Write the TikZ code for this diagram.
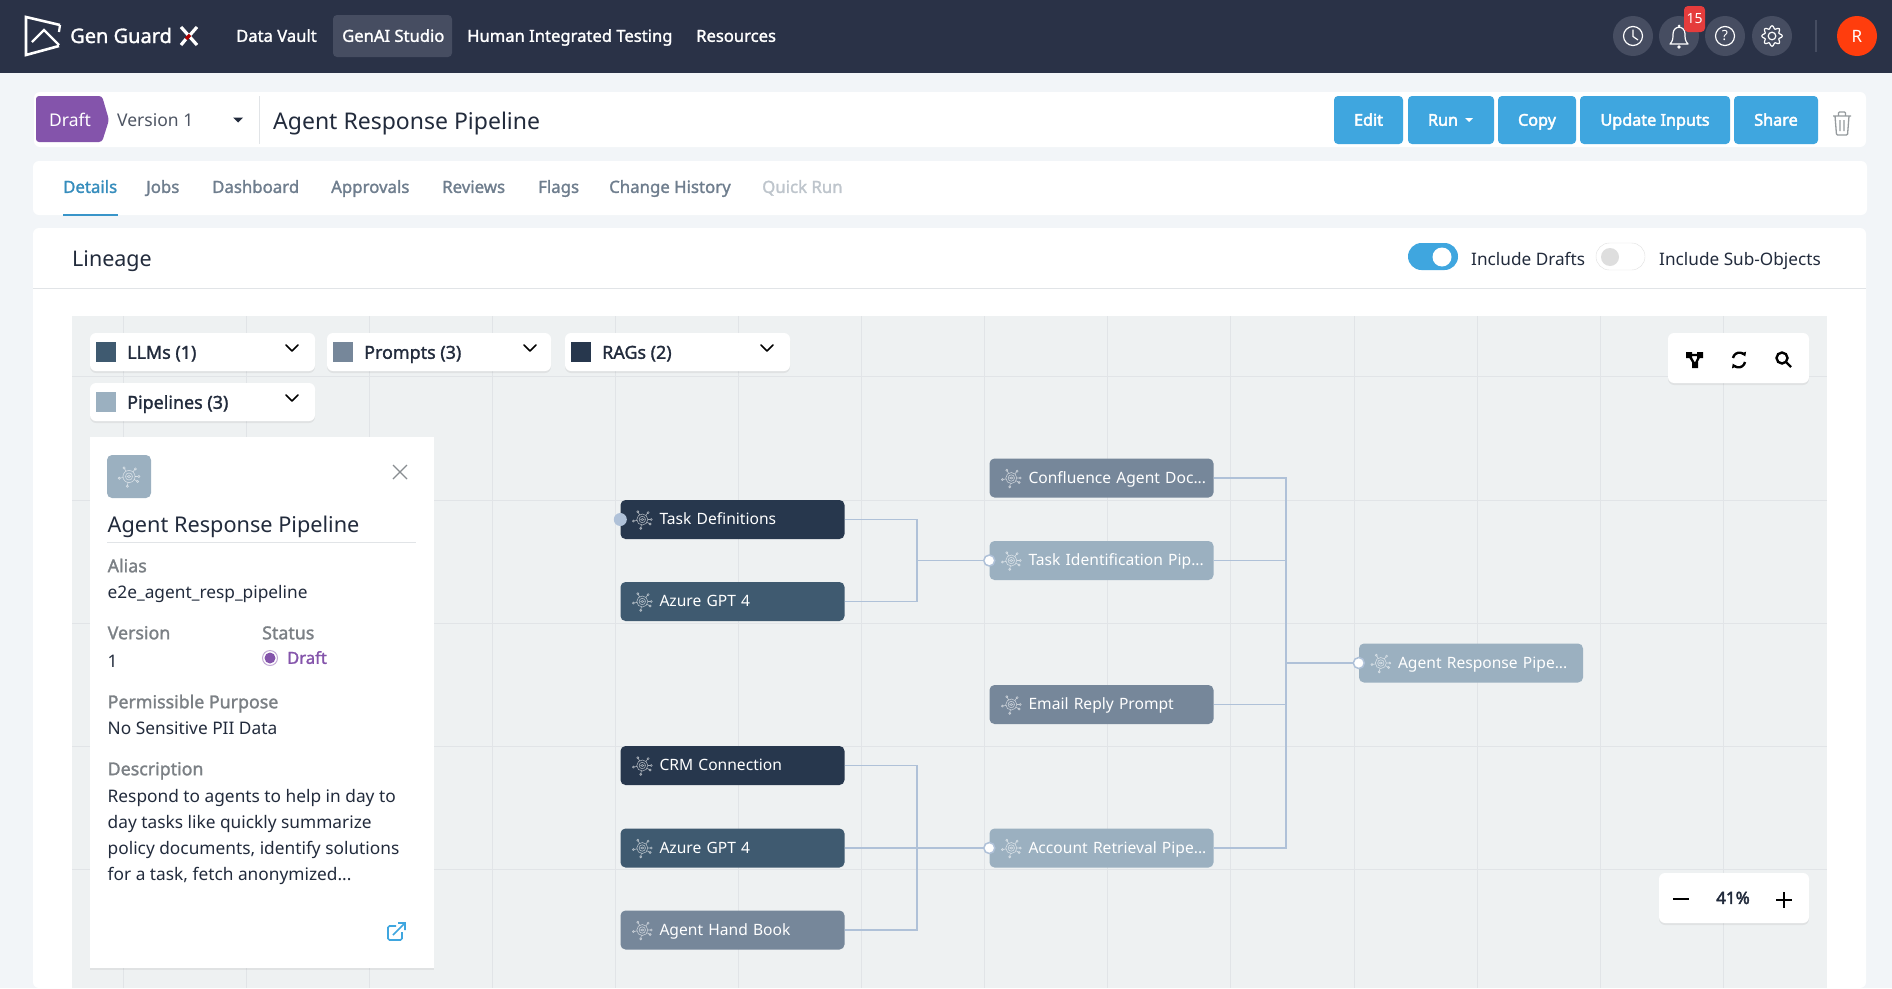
\documentclass[tikz,border=0pt]{standalone}
\usepackage{fontspec}
\setmainfont{Noto Sans}
\newfontfamily\semi[FakeBold=1.5]{Noto Sans}
\newfontfamily\heavy[FakeBold=2.6]{Noto Sans}
\usetikzlibrary{arrows.meta,shadows}
\newcommand{\fsz}[1]{\fontsize{#1}{#1}\selectfont}
\newcommand{\levelstrut}{\rule[-0.26em]{0pt}{1.22em}}
\newcommand{\pipelabel}[1]{\hspace*{30pt}\makebox[176pt][l]{\levelstrut #1}}

\definecolor{navy}{HTML}{2A3247}
\definecolor{navlight}{HTML}{464D61}
\definecolor{pagebg}{HTML}{F2F5F8}
\definecolor{canvas}{HTML}{EEF1F2}
\definecolor{gridline}{HTML}{E1E4E7}
\definecolor{skyblue}{HTML}{3FA6DF}
\definecolor{draftpurple}{HTML}{8454AB}
\definecolor{llmcol}{HTML}{3F5A70}
\definecolor{promptcol}{HTML}{76879A}
\definecolor{ragcol}{HTML}{27374D}
\definecolor{pipecol}{HTML}{9BB0C0}
\definecolor{linkcol}{HTML}{AFC1D8}
\definecolor{inktext}{HTML}{222B3C}
\definecolor{greytext}{HTML}{7B8085}
\definecolor{tabtext}{HTML}{6F7E8E}

\tikzset{
    txt/.style={anchor=west,inner sep=0pt,execute at begin node=\levelstrut},
    ctr/.style={inner sep=0pt,execute at begin node=\levelstrut},
    card/.style={fill=white,rounded corners=6pt},
    shadowed/.style={drop shadow={shadow xshift=0pt,shadow yshift=-2pt,fill=black,opacity=0.06}},
    btn/.style={fill=skyblue,rounded corners=4pt},
    btnlabel/.style={ctr,text=white,font=\heavy\fsz{16.2}},
    navlink/.style={txt,text=white,font=\semi\fsz{16.6}},
    tablink/.style={txt,text=tabtext,font=\semi\fsz{16.8}},
    chip/.style={txt,text=inktext,font=\semi\fsz{17.9}},
    lbl/.style={txt,text=greytext,font=\semi\fsz{17.8}},
    val/.style={txt,text=inktext,font=\fsz{17.3}},
    roundbtn/.style={circle,fill=navlight,minimum size=40pt,inner sep=0pt},
    glyph/.style={white,line width=1.2pt},
    chevron/.style={black,line width=1.6pt,line cap=round,line join=round},
    toolicon/.style={black,line width=2.4pt},
    pipebox/.style={rounded corners=5pt,minimum width=224pt,minimum height=39pt,inner ysep=0pt,inner xsep=9pt,
        text width=206pt,align=left,text=white,font=\fsz{15.6}},
    link/.style={linkcol,line width=1.5pt},
    portopen/.style={circle,fill=white,draw=linkcol,line width=1.5pt,minimum size=11pt,inner sep=0pt},
    portfull/.style={circle,fill=linkcol,minimum size=13pt,inner sep=0pt},
    spider/.pic={
        \draw[white,opacity=0.6,line width=0.6pt] (0,0) circle (5.5) (0,0) circle (3.2) (0,0) ellipse (1.6 and 1);
        \foreach \a in {30,100,170,240,310,0}{
            \draw[white,opacity=0.6,line width=0.6pt] (\a:5.5) -- (\a:8) (\a:9) circle (1);
        }
    }
}

\begin{document}
\begin{tikzpicture}[x=1pt,y=-1pt]
    \useasboundingbox (0,0) rectangle (1892,988);
    \fill[pagebg] (0,0) rectangle (1892,988);

    % Top bar
    \fill[navy] (0,0) rectangle (1892,73);
    \draw[white,line width=2.6pt] (60,25) -- (26,17) -- (26,55) -- (59,46);
    \draw[white,line width=2.2pt] (60,25) -- (59,32);
    \draw[white,line width=2.4pt] (32,42) -- (44,30) -- (59,45);
    \node[txt,text=white,font=\semi\fsz{20}] (brand) at (70,36) {Gen Guard};
    \draw[white,line width=3.2pt] (181,27) -- (197,45) (197,27) -- (190,35);
    \draw[white,line width=3.2pt] (181,45) -- (186,39);
    \draw[red!70!black,line width=3.2pt] (186,39) -- (190,35);
    \fill[navlight,rounded corners=4pt] (333,15) rectangle (452,57);
    \node[navlink] (vault) at (236,36) {Data Vault};
    \node[navlink] (studio) at (342,36) {GenAI Studio};
    \node[navlink] (testing) at (467,36) {Human Integrated Testing};
    \node[navlink] (resources) at (696,36) {Resources};

    \node[roundbtn] (clock) at (1633,36) {};
    \node[roundbtn] (bell) at (1679,36) {};
    \node[roundbtn] (help) at (1725,36) {};
    \node[roundbtn] (gear) at (1772,36) {};
    \draw[glyph] (clock) circle (9.5) (1633,29.5) -- (1633,36.5) -- (1638,40);
    \draw[glyph,line join=round] (1670,44) .. controls (1673,41) and (1673,38) .. (1673,34)
        .. controls (1673,25) and (1685,25) .. (1685,34) .. controls (1685,38) and (1685,41) .. (1688,44) -- cycle;
    \fill[white] (1679,47) circle (1.8) (1679,26) circle (1.5);
    \draw[glyph] (help) circle (9.5);
    \node[inner sep=0pt,text=white,font=\fsz{14}] (helpmark) at (help) {?};
    \draw[glyph,line join=round] plot[domain=0:360,samples=97,smooth,variable=\t]
        ({1772+(8.8+1.4*cos(8*\t))*cos(\t)},{36+(8.8+1.4*cos(8*\t))*sin(\t)});
    \draw[glyph] (gear) circle (3.8);
    \fill[red!65!pink!90!black,rounded corners=4pt] (1684,6) rectangle (1705,32);
    \node[inner sep=0pt,text=white,font=\fsz{14}] (badge) at (1694.5,19) {15};
    \draw[navlight,line width=1.4pt] (1816,20) -- (1816,52);
    \node[circle,fill=orange!40!red!95!white,minimum size=40pt,inner sep=0pt,text=white,font=\fsz{17}] (avatar) at (1857,36) {R};

    % Title row
    \fill[card] (34,92) rectangle (1866,147);
    \fill[draftpurple,rounded corners=3pt] (36,96) -- (102,96) -- (109,120) -- (102,142) -- (36,142) -- cycle;
    \node[txt,text=white,font=\fsz{17.5}] (draft) at (49,120) {Draft};
    \node[txt,text=inktext!80,font=\fsz{17.5}] (version) at (117,120) {Version 1};
    \fill[inktext] (233,117.5) -- (243,117.5) -- (238,122.5) -- cycle;
    \draw[gridline,line width=1pt] (259.5,96) -- (259.5,144);
    \node[txt,text=inktext,font=\fsz{23}] (title) at (273,121.5) {Agent Response Pipeline};
    \foreach \name/\xa/\xb/\label in {edit/1334/1403/Edit,copy/1498/1576/Copy,update/1580/1730/Update Inputs,share/1734/1818/Share}{
        \fill[btn] (\xa,96) rectangle (\xb,144);
        \node[btnlabel] (\name) at ({(\xa+\xb)/2},120) {\label};
    }
    \fill[btn] (1408,96) rectangle (1494,144);
    \node[btnlabel] (run) at (1443,120) {Run};
    \fill[white] (1465,118) -- (1473,118) -- (1469,122) -- cycle;
    \draw[greytext!80,line width=1.3pt,rounded corners=1pt] (1835,116) -- (1836.5,135) -- (1847.5,135) -- (1849,116)
        (1833,116) -- (1851,116) (1838.5,116) -- (1838.5,112) -- (1845.5,112) -- (1845.5,116)
        (1840,120) -- (1840,131) (1844,120) -- (1844,131);

    % Tabs
    \fill[card] (33,161) rectangle (1867,215);
    \node[tablink,text=skyblue!85!black] (details) at (63,187) {Details};
    \draw[skyblue!90!black,line width=2pt] (63,215) -- (118,215);
    \foreach \name/\xa/\label in {jobs/146/Jobs,dashboard/212/Dashboard,approvals/331/Approvals,reviews/442/Reviews,flags/538/Flags,history/609/Change History}{
        \node[tablink] (\name) at (\xa,187) {\label};
    }
    \node[tablink,text=tabtext!45] (quick) at (762,187) {Quick Run};

    % Lineage card
    \fill[white,rounded corners=6pt] (33,228) -- (1866,228) -- (1866,988) -- (33,988) -- cycle;
    \node[txt,text=inktext,font=\fsz{21.5}] (lineage) at (72,259) {Lineage};
    \draw[gridline,line width=1pt] (33,288) -- (1866,288);
    \fill[skyblue,rounded corners=13.5pt] (1408,243) rectangle (1458,270);
    \fill[white] (1442,257) circle (9.5);
    \node[txt,text=inktext,font=\fsz{17.2}] (drafts) at (1471,259) {Include Drafts};
    \draw[black!12,fill=white,rounded corners=13.5pt] (1596,243) rectangle (1645,270);
    \fill[black!13] (1610,257) circle (9);
    \node[txt,text=inktext,font=\fsz{17.2}] (subobj) at (1659,259) {Include Sub-Objects};

    % Canvas and its grid
    \fill[canvas] (72,316) rectangle (1827,988);
    \foreach \k in {0,...,13}{
        \draw[gridline,line width=1pt] ({123+123.1*\k},316) -- ({123+123.1*\k},988);
    }
    \foreach \gy in {376,500,623,746,869}{
        \draw[gridline,line width=1pt] (72,\gy) -- (1827,\gy);
    }

    % Legend chips
    \foreach \name/\xa/\xb/\ya/\col/\label/\cx in {llms/90/315/333/llmcol/LLMs (1)/292,prompts/327/551/333/promptcol/Prompts (3)/530,rags/565/790/333/ragcol/RAGs (2)/767,pipes/90/315/383/pipecol/Pipelines (3)/292}{
        \fill[card,shadowed] (\xa,\ya) rectangle (\xb,\ya+38);
        \fill[\col] (\xa+6,\ya+9) rectangle (\xa+26,\ya+29);
        \node[chip] (\name) at (\xa+37,\ya+19.5) {\label};
        \draw[chevron] (\cx-6,\ya+12) -- (\cx,\ya+18) -- (\cx+6,\ya+12);
    }

    % Details panel
    \fill[white,shadowed] (90,437) rectangle (434,968);
    \fill[pipecol,rounded corners=5pt] (107,455) rectangle (151,498);
    \pic[scale=1.1] at (129,476.5) {spider};
    \draw[greytext!90,line width=1.3pt] (393,465) -- (407,479) (407,465) -- (393,479);
    \node[txt,text=inktext,font=\fsz{21.7}] (paneltitle) at (107.5,525) {Agent Response Pipeline};
    \draw[gridline,line width=1pt] (107,542) -- (416,542);
    \node[lbl] (alias) at (107.5,566) {Alias};
    \node[val] (aliasval) at (107.5,592) {e2e\_agent\_resp\_pipeline};
    \node[lbl] (ver) at (107.5,633) {Version};
    \node[val] (verval) at (107.5,661) {1};
    \node[lbl] (status) at (262,633) {Status};
    \draw[draftpurple!50,line width=1pt] (270,658) circle (7.5);
    \fill[draftpurple] (270,658) circle (5.5);
    \node[txt,text=draftpurple,font=\semi\fsz{16.6}] (statusval) at (287,658) {Draft};
    \node[lbl] (purpose) at (107.5,702) {Permissible Purpose};
    \node[val] (purposeval) at (107.5,728) {No Sensitive PII Data};
    \node[lbl] (descr) at (107.5,769) {Description};
    \node[anchor=north west,inner sep=0pt,align=left,text=inktext,font=\fontsize{17.3}{26}\selectfont] (descrval) at (107.5,789)
        {Respond to agents to help in day to\\day tasks like quickly summarize\\policy documents, identify solutions\\for a task, fetch anonymized...};
    \draw[skyblue,line width=1.6pt,rounded corners=1.5pt] (396,926) -- (388,926) -- (388,940) -- (402,940) -- (402,932);
    \draw[skyblue,line width=1.6pt] (393,935) -- (405,923) (398,923) -- (405,923) -- (405,930);

    % Pipeline nodes
    \node[pipebox,fill=ragcol] (taskdef) at (732.5,519.5) {\pipelabel{Task Definitions}};
    \node[pipebox,fill=llmcol] (azureone) at (732.5,601.5) {\pipelabel{Azure GPT 4}};
    \node[pipebox,fill=ragcol] (crm) at (732.5,765.5) {\pipelabel{CRM Connection}};
    \node[pipebox,fill=llmcol] (azuretwo) at (732.5,848) {\pipelabel{Azure GPT 4}};
    \node[pipebox,fill=promptcol] (handbook) at (732.5,930) {\pipelabel{Agent Hand Book}};
    \node[pipebox,fill=promptcol] (confluence) at (1101.5,478) {\pipelabel{Confluence Agent Doc...}};
    \node[pipebox,fill=pipecol] (taskid) at (1101.5,560.5) {\pipelabel{Task Identification Pip...}};
    \node[pipebox,fill=promptcol] (email) at (1101.5,704.5) {\pipelabel{Email Reply Prompt}};
    \node[pipebox,fill=pipecol] (account) at (1101.5,848) {\pipelabel{Account Retrieval Pipe...}};
    \node[pipebox,fill=pipecol] (agent) at (1471,663) {\pipelabel{Agent Response Pipe...}};
    \foreach \n in {taskdef,azureone,crm,azuretwo,handbook,confluence,taskid,email,account,agent}{
        \pic at ([xshift=22pt]\n.west) {spider};
    }

    % Connectors
    \coordinate (busa) at (917,560.5);
    \coordinate (busb) at (917,848);
    \coordinate (busc) at (1286,663);
    \draw[link] (taskdef.east) -| (busa) -- (taskid.west);
    \draw[link] (azureone.east) -| (busa);
    \draw[link] (crm.east) -| (busb);
    \draw[link] (handbook.east) -| (busb);
    \draw[link] (azuretwo.east) -- (account.west);
    \draw[link] (confluence.east) -| (busc) -- (agent.west);
    \draw[link] (taskid.east) -| (busc);
    \draw[link] (email.east) -| (busc);
    \draw[link] (account.east) -| (busc);
    \node[portfull] (porta) at (taskdef.west) {};
    \node[portopen] (portb) at (taskid.west) {};
    \node[portopen] (portc) at (account.west) {};
    \node[portopen] (portd) at (agent.west) {};

    % Toolbox
    \fill[card,shadowed] (1668,333) rectangle (1809,383);
    \draw[toolicon] (1689,355) -- (1700,355) (1689,355) -- (1695,365) -- (1700,355);
    \fill[black] (1686,352) rectangle (1692,358) (1697,352) rectangle (1703,358) (1692,362) rectangle (1698,368);
    \draw[toolicon,-{Triangle[length=4pt,width=5pt]}] (1733,358) arc[start angle=190,end angle=335,radius=6.5];
    \draw[toolicon,-{Triangle[length=4pt,width=5pt]}] (1745,362) arc[start angle=10,end angle=155,radius=6.5];
    \draw[toolicon] (1782,358) circle (5.5) (1786,362) -- (1791,367);

    % Zoom box
    \fill[card,shadowed] (1659,873) rectangle (1809,923);
    \draw[black,line width=2.4pt] (1673,899) -- (1689,899) (1776,900) -- (1792,900) (1784,892) -- (1784,908);
    \node[ctr,text=inktext,font=\heavy\fsz{17}] (zoomval) at (1733,898) {41\%};
\end{tikzpicture}
\end{document}
